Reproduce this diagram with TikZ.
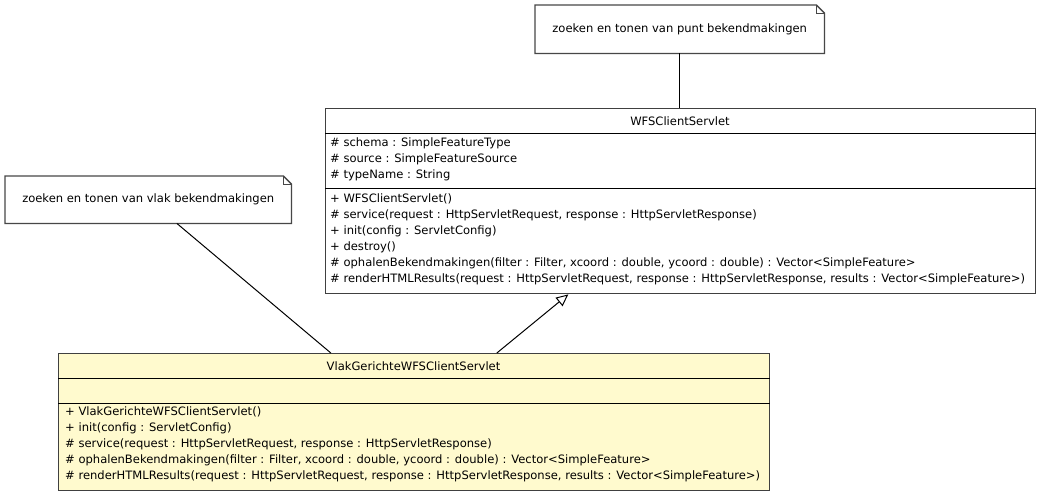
\documentclass[tikz,border=0pt]{standalone}
\usepackage{fontspec}
\setmainfont{DejaVu Sans}
\usetikzlibrary{arrows.meta,calc}
\definecolor{classfill}{RGB}{255,250,206}
\begin{document}
\begin{tikzpicture}[x=1pt,y=-1pt,
  every node/.style={font=\fontsize{11.55}{14}\selectfont},
  classbox/.style={draw=black!75,line width=1.4pt,inner sep=0pt,anchor=north west},
  divider/.style={draw=black,line width=0.9pt},
  member/.style={anchor=mid west,inner sep=0pt,yshift=-1pt},
  notebox/.style={inner sep=0pt,anchor=north west},
  noteline/.style={draw=black!72,line width=1.3pt,line join=miter},
  link/.style={draw=black,line width=1pt},
  inherit/.style={link,-{Triangle[open,length=12pt,width=11pt]}}
]
\fill[white] (0,0) rectangle (1051,501);
\useasboundingbox (0,0) rectangle (1051,501);

% notes
\node[notebox,minimum width=289pt,minimum height=48pt] (tnote) at (535,5)
  {zoeken en tonen van punt bekendmakingen};
\node[notebox,minimum width=286pt,minimum height=47pt] (lnote) at (5,176)
  {zoeken en tonen van vlak bekendmakingen};
\foreach \n in {tnote,lnote}{
  \draw[noteline] (\n.north west) -- ([xshift=-8pt]\n.north east)
    -- ([yshift=-8pt]\n.north east) -- (\n.south east) -- (\n.south west) -- cycle;
  \draw[noteline,line width=1pt] ([xshift=-8pt]\n.north east)
    -- ([xshift=-8pt,yshift=-8pt]\n.north east) -- ([yshift=-8pt]\n.north east);
}

% superclass
\node[classbox,minimum width=710pt,minimum height=185pt] (super) at (325,108) {};
\draw[divider] (super.west |- 0,133) -- (super.east |- 0,133);
\draw[divider] (super.west |- 0,188) -- (super.east |- 0,188);
\node[inner sep=0pt] (supname) at (680,121) {WFSClientServlet};
\node[member] (sa1) at (330,143) {\# schema : SimpleFeatureType};
\node[member] (sa2) at (330,159) {\# source : SimpleFeatureSource};
\node[member] (sa3) at (330,175) {\# typeName : String};
\node[member] (sm1) at (330,199) {+ WFSClientServlet()};
\node[member] (sm2) at (330,215) {\# service(request : HttpServletRequest, response : HttpServletResponse)};
\node[member] (sm3) at (330,231) {+ init(config : ServletConfig)};
\node[member] (sm4) at (330,247) {+ destroy()};
\node[member] (sm5) at (330,263) {\# ophalenBekendmakingen(filter : Filter, xcoord : double, ycoord : double) : Vector<SimpleFeature>};
\node[member] (sm6) at (330,279) {\# renderHTMLResults(request : HttpServletRequest, response : HttpServletResponse, results : Vector<SimpleFeature>)};

% subclass
\node[classbox,fill=classfill,minimum width=711pt,minimum height=137pt] (sub) at (58,353) {};
\draw[divider] (sub.west |- 0,378) -- (sub.east |- 0,378);
\draw[divider] (sub.west |- 0,403) -- (sub.east |- 0,403);
\node[inner sep=0pt] (subname) at (413.5,366) {VlakGerichteWFSClientServlet};
\node[member] (bm1) at (65,412) {+ VlakGerichteWFSClientServlet()};
\node[member] (bm2) at (65,428) {+ init(config : ServletConfig)};
\node[member] (bm3) at (65,444) {\# service(request : HttpServletRequest, response : HttpServletResponse)};
\node[member] (bm4) at (65,460) {\# ophalenBekendmakingen(filter : Filter, xcoord : double, ycoord : double) : Vector<SimpleFeature>};
\node[member] (bm5) at (65,476) {\# renderHTMLResults(request : HttpServletRequest, response : HttpServletResponse, results : Vector<SimpleFeature>)};

% connectors
\draw[link] (tnote.south) -- (tnote.south |- super.north);
\draw[link] ($(lnote.south west)!0.6!(lnote.south east)$)
  -- ($(sub.north west)!0.383!(sub.north east)$);
\draw[inherit] ($(sub.north west)!0.616!(sub.north east)$)
  -- ($(super.south west)!0.342!(super.south east)$);
\end{tikzpicture}
\end{document}
